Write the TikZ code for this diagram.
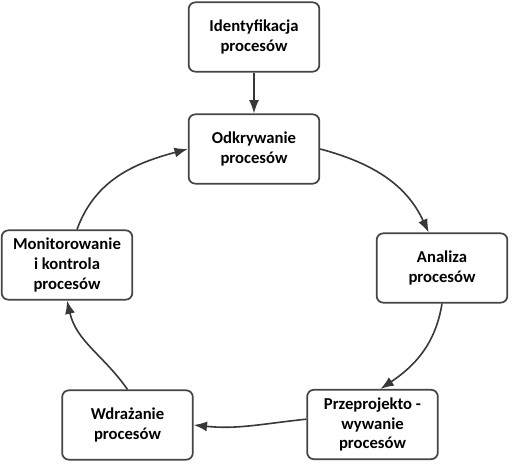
\documentclass[tikz,border=0pt]{standalone}
\usepackage{fontspec}
\setmainfont{Carlito}
\usetikzlibrary{arrows.meta,positioning}
\definecolor{boxgray}{HTML}{454545}
\definecolor{linegray}{HTML}{383838}

\begin{document}
\begin{tikzpicture}[x=0.75pt,y=0.75pt,->,>={Latex[length=10pt,width=7.5pt]},node distance=84pt,
  proc/.style={rectangle,rounded corners=5pt,draw=boxgray,line width=1.3pt,fill=white,minimum width=98pt,minimum height=52pt,align=center,font=\fontsize{12.5}{14.8}\selectfont\bfseries}]
  \useasboundingbox (0,0) rectangle (525,-466);
  \node[proc] (ident) at (254,-37) {Identyfikacja\\procesów};
  \node[proc] (odk) [below of=ident] {Odkrywanie\\procesów};
  \node[proc] (ana) at (442,-268) {Analiza\\procesów};
  \node[proc] (prz) at (372.5,-424.5) {Przeprojekto -\\wywanie\\procesów};
  \node[proc] (wdr) at (127.5,-425) {Wdrażanie\\procesów};
  \node[proc] (mon) at (67,-265) {Monitorowanie\\i kontrola\\procesów};

  \path[linegray,line width=1.2pt]
   (ident) edge (odk)
   (odk.east) edge[out=-15,in=115] ([xshift=-10pt]ana.north)
   (ana.south) edge[out=-99,in=34] ([xshift=6pt]prz.north)
   ([yshift=4pt]prz.west) edge[out=186,in=-6] (wdr.east)
   (wdr.north) edge[out=125,in=-77] (mon.south)
   ([xshift=7.5pt]mon.north) edge[out=70,in=195] (odk.west);
\end{tikzpicture}
\end{document}
